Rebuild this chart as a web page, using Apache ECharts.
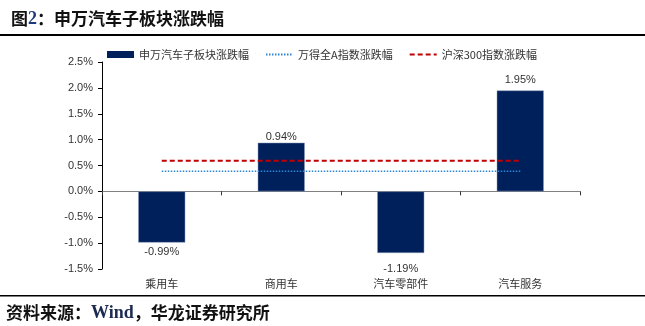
<!DOCTYPE html>
<html><head><meta charset="utf-8">
<script src="https://cdn.jsdelivr.net/npm/echarts@6/dist/echarts.min.js"></script>
<style>html,body{margin:0;padding:0;background:#fff}#c{width:645px;height:326px}</style>
</head><body><div id="c"></div>
<script>
var categories = ['乘用车', '商用车', '汽车零部件', '汽车服务'];
var sectorChange = [-0.99, 0.94, -1.19, 1.95];
var windAChange = [0.39, 0.39, 0.39, 0.39];
var hs300Change = [0.59, 0.59, 0.59, 0.59];
var yTicks = [-1.5, -1.0, -0.5, 0.0, 0.5, 1.0, 1.5, 2.0, 2.5];
var seriesNames = ['申万汽车子板块涨跌幅', '万得全A指数涨跌幅', '沪深300指数涨跌幅'];

var CJK = '"Noto Sans CJK SC", sans-serif';
var chart = echarts.init(document.getElementById('c'), null, {renderer: 'canvas'});

function pct(v) { return v.toFixed(2) + '%'; }

var barData = sectorChange.map(function (v, i) {
  var lab = {show: true, position: v >= 0 ? 'top' : 'bottom', distance: v >= 0 ? 0 : 4, formatter: pct(v)};
  if (i === 2) lab.distance = 11;
  if (i === 3) lab.distance = 5;
  return {value: v, label: lab};
});
var windData = windAChange.map(function (v, i) {
  return i === 0 ? {value: v, label: {show: true, position: 'bottom', offset: [49, 2], formatter: pct(v)}} : v;
});
var hsData = hs300Change.map(function (v, i) {
  return i === 0 ? {value: v, label: {show: true, position: 'top', offset: [49, 0], formatter: pct(v)}} : v;
});

var option = {
  animation: false,
  textStyle: {fontFamily: CJK},
  title: {
    text: '{a|图}{b|2}{a|：申万汽车子板块涨跌幅}',
    left: 6, top: 5,
    textStyle: {
      rich: {
        a: {fontFamily: CJK, fontWeight: 'bold', fontSize: 17, color: '#111'},
        b: {fontFamily: '"Liberation Serif", serif', fontWeight: 'bold', fontSize: 18, color: '#1F3A7A'}
      }
    }
  },
  legend: {
    left: 102, top: 44,
    itemWidth: 27, itemHeight: 7, itemGap: 16,
    textStyle: {fontSize: 11, color: '#333', fontFamily: CJK},
    data: [
      {name: seriesNames[0], icon: 'rect', itemStyle: {borderWidth: 0}},
      {name: seriesNames[1], itemStyle: {opacity: 0}},
      {name: seriesNames[2], itemStyle: {opacity: 0}}
    ]
  },
  grid: {left: 102, right: 65, top: 62, bottom: 57, containLabel: false},
  xAxis: [{
    type: 'category', data: categories,
    axisLine: {onZero: true, lineStyle: {color: '#808080', width: 1}},
    axisTick: {show: true, length: 4, lineStyle: {color: '#333'}},
    axisLabel: {show: false}
  }, {
    type: 'category', data: categories, position: 'bottom',
    axisLine: {show: false, onZero: false}, axisTick: {show: false},
    axisLabel: {show: true, margin: 9, fontSize: 11, color: '#333', fontFamily: CJK}
  }],
  yAxis: {
    type: 'value', min: -1.5, max: 2.5, interval: 0.5,
    splitLine: {show: false},
    axisLine: {show: true, lineStyle: {color: '#000', width: 1}},
    axisTick: {show: true, length: 4, lineStyle: {color: '#000'}},
    axisLabel: {
      fontSize: 11, color: '#333', margin: 9, fontFamily: '"Liberation Sans", sans-serif',
      formatter: function (v) { return v.toFixed(1) + '%'; }
    }
  },
  series: [{
    name: seriesNames[0], type: 'bar', data: barData, barWidth: 47,
    itemStyle: {color: '#00205C', borderColor: '#8A99B8', borderWidth: 0.5},
    label: {fontSize: 11, color: '#333', fontFamily: '"Liberation Sans", sans-serif'},
    z: 2
  }, {
    name: seriesNames[1], type: 'line', data: windData, symbol: 'none',
    lineStyle: {color: '#2E86D6', width: 1.5, type: [1.5, 1.5]},
    itemStyle: {color: '#2E86D6'},
    label: {fontSize: 11, color: '#333', fontFamily: '"Liberation Sans", sans-serif'},
    z: 3
  }, {
    name: seriesNames[2], type: 'line', data: hsData, symbol: 'none',
    lineStyle: {color: '#C00000', width: 2, type: [5, 3]},
    itemStyle: {color: '#C00000'},
    label: {fontSize: 11, color: '#333', fontFamily: '"Liberation Sans", sans-serif'},
    z: 3
  }],
  graphic: [
    {type: 'rect', shape: {x: 0, y: 34, width: 645, height: 2}, style: {fill: '#000'}},
    {type: 'rect', shape: {x: 0, y: 295, width: 645, height: 1.5}, style: {fill: '#000'}},
    {type: 'text', left: 6, top: 304, style: {
      text: '{a|资料来源：}{b|Wind}{a|，华龙证券研究所}',
      rich: {
        a: {fontFamily: CJK, fontWeight: 'bold', fontSize: 17, fill: '#111'},
        b: {fontFamily: '"Liberation Serif", serif', fontWeight: 'bold', fontSize: 18, fill: '#1A2A50'}
      }
    }}
  ]
};
chart.setOption(option);
</script>
</body></html>
